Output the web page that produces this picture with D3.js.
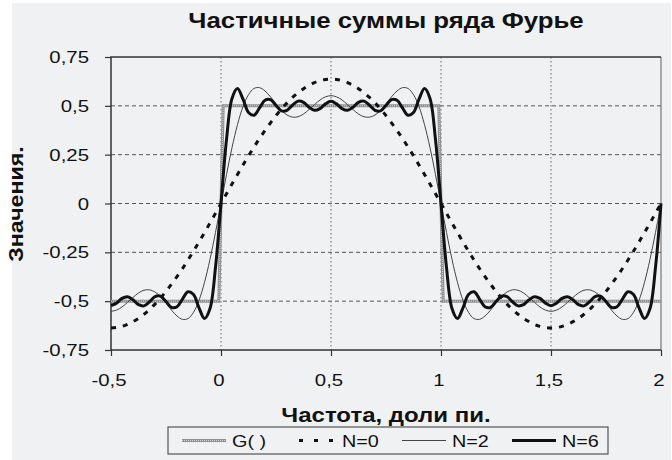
<!DOCTYPE html>
<html>
<head>
<meta charset="utf-8">
<script src="https://cdn.jsdelivr.net/npm/d3@7"></script>
<style>
  body { margin: 0; background: #fff; }
  text { font-family: "Liberation Sans", Arial, sans-serif; fill: #111; }
</style>
</head>
<body>
<script>
// sample positions, fractions of pi
const xs = [-0.5, -0.475, -0.45, -0.425, -0.4, -0.375, -0.35, -0.325, -0.3, -0.275,
  -0.25, -0.225, -0.2, -0.175, -0.15, -0.125, -0.1, -0.075, -0.05, -0.025,
  0, 0.025, 0.05, 0.075, 0.1, 0.125, 0.15, 0.175, 0.2, 0.225,
  0.25, 0.275, 0.3, 0.325, 0.35, 0.375, 0.4, 0.425, 0.45, 0.475,
  0.5, 0.525, 0.55, 0.575, 0.6, 0.625, 0.65, 0.675, 0.7, 0.725,
  0.75, 0.775, 0.8, 0.825, 0.85, 0.875, 0.9, 0.925, 0.95, 0.975,
  1, 1.025, 1.05, 1.075, 1.1, 1.125, 1.15, 1.175, 1.2, 1.225,
  1.25, 1.275, 1.3, 1.325, 1.35, 1.375, 1.4, 1.425, 1.45, 1.475,
  1.5, 1.525, 1.55, 1.575, 1.6, 1.625, 1.65, 1.675, 1.7, 1.725,
  1.75, 1.775, 1.8, 1.825, 1.85, 1.875, 1.9, 1.925, 1.95, 1.975, 2];

const n0 = [-0.637, -0.635, -0.629, -0.619, -0.605, -0.588, -0.567, -0.543, -0.515, -0.484,
  -0.450, -0.413, -0.374, -0.333, -0.289, -0.244, -0.197, -0.149, -0.100, -0.050,
  0, 0.050, 0.100, 0.149, 0.197, 0.244, 0.289, 0.333, 0.374, 0.413,
  0.450, 0.484, 0.515, 0.543, 0.567, 0.588, 0.605, 0.619, 0.629, 0.635,
  0.637, 0.635, 0.629, 0.619, 0.605, 0.588, 0.567, 0.543, 0.515, 0.484,
  0.450, 0.413, 0.374, 0.333, 0.289, 0.244, 0.197, 0.149, 0.100, 0.050,
  0, -0.050, -0.100, -0.149, -0.197, -0.244, -0.289, -0.333, -0.374, -0.413,
  -0.450, -0.484, -0.515, -0.543, -0.567, -0.588, -0.605, -0.619, -0.629, -0.635,
  -0.637, -0.635, -0.629, -0.619, -0.605, -0.588, -0.567, -0.543, -0.515, -0.484,
  -0.450, -0.413, -0.374, -0.333, -0.289, -0.244, -0.197, -0.149, -0.100, -0.050, 0];

const n2 = [-0.552, -0.546, -0.530, -0.506, -0.481, -0.458, -0.444, -0.442, -0.453, -0.477,
  -0.510, -0.546, -0.576, -0.593, -0.589, -0.557, -0.496, -0.404, -0.286, -0.148,
  0, 0.148, 0.286, 0.404, 0.496, 0.557, 0.589, 0.593, 0.576, 0.546,
  0.510, 0.477, 0.453, 0.442, 0.444, 0.458, 0.481, 0.506, 0.530, 0.546,
  0.552, 0.546, 0.530, 0.506, 0.481, 0.458, 0.444, 0.442, 0.453, 0.477,
  0.510, 0.546, 0.576, 0.593, 0.589, 0.557, 0.496, 0.404, 0.286, 0.148,
  0, -0.148, -0.286, -0.404, -0.496, -0.557, -0.589, -0.593, -0.576, -0.546,
  -0.510, -0.477, -0.453, -0.442, -0.444, -0.458, -0.481, -0.506, -0.530, -0.546,
  -0.552, -0.546, -0.530, -0.506, -0.481, -0.458, -0.444, -0.442, -0.453, -0.477,
  -0.510, -0.546, -0.576, -0.593, -0.589, -0.557, -0.496, -0.404, -0.286, -0.148, 0];

const n6 = [-0.523, -0.510, -0.486, -0.477, -0.493, -0.518, -0.524, -0.503, -0.477, -0.474,
  -0.502, -0.532, -0.529, -0.489, -0.452, -0.466, -0.534, -0.589, -0.538, -0.327,
  0, 0.327, 0.538, 0.589, 0.534, 0.466, 0.452, 0.489, 0.529, 0.532,
  0.502, 0.474, 0.477, 0.503, 0.524, 0.518, 0.493, 0.477, 0.486, 0.510,
  0.523, 0.510, 0.486, 0.477, 0.493, 0.518, 0.524, 0.503, 0.477, 0.474,
  0.502, 0.532, 0.529, 0.489, 0.452, 0.466, 0.534, 0.589, 0.538, 0.327,
  0, -0.327, -0.538, -0.589, -0.534, -0.466, -0.452, -0.489, -0.529, -0.532,
  -0.502, -0.474, -0.477, -0.503, -0.524, -0.518, -0.493, -0.477, -0.486, -0.510,
  -0.523, -0.510, -0.486, -0.477, -0.493, -0.518, -0.524, -0.503, -0.477, -0.474,
  -0.502, -0.532, -0.529, -0.489, -0.452, -0.466, -0.534, -0.589, -0.538, -0.327, 0];

// the square wave G
const gX = [-0.5, -0.01, 0.01, 0.99, 1.01, 2];
const gY = [-0.5, -0.5, 0.5, 0.5, -0.5, -0.5];

const xTicks = [-0.5, 0, 0.5, 1, 1.5, 2];
const yTicks = [-0.75, -0.5, -0.25, 0, 0.25, 0.5, 0.75];
const legendLabels = ["G( )", "N=0", "N=2", "N=6"];

const W = 672, H = 460;
const plot = { left: 111, right: 661, top: 57, bottom: 350 };
const SX = 1.2; // text in the picture is drawn wide

const svg = d3.select("body").append("svg")
    .attr("width", W)
    .attr("height", H);

svg.append("rect")
    .attr("x", 12).attr("y", 3)
    .attr("width", W - 13).attr("height", H - 3)
    .attr("fill", "#f0f1f3");

const x = d3.scaleLinear().domain([-0.5, 2]).range([plot.left, plot.right]);
const y = d3.scaleLinear().domain([-0.75, 0.75]).range([plot.bottom, plot.top]);

const fmt = v => String(v).replace(".", ",");

function label(str, px, py, size, opts) {
    opts = opts || {};
    const t = svg.append("text")
        .attr("transform", `translate(${px},${py})` + (opts.rotate ? " rotate(-90)" : "") + ` scale(${opts.sx || SX},1)`)
        .attr("text-anchor", opts.anchor || "middle")
        .style("font-size", size + "px")
        .text(str);
    if (opts.bold) t.style("font-weight", "bold");
    return t;
}

// grid
svg.append("g").selectAll("line")
    .data(yTicks.filter(v => v > -0.75 && v < 0.75))
    .enter().append("line")
    .attr("x1", plot.left).attr("x2", plot.right)
    .attr("y1", d => y(d)).attr("y2", d => y(d))
    .attr("stroke", "#555")
    .attr("stroke-width", 1)
    .attr("stroke-dasharray", "4,3");

svg.append("g").selectAll("line")
    .data(xTicks.filter(v => v > -0.5 && v < 2))
    .enter().append("line")
    .attr("x1", d => x(d)).attr("x2", d => x(d))
    .attr("y1", plot.top).attr("y2", plot.bottom)
    .attr("stroke", "#666")
    .attr("stroke-width", 1)
    .attr("stroke-dasharray", "1.5,2.5");

// frame
svg.append("line")
    .attr("x1", plot.right).attr("x2", plot.right)
    .attr("y1", plot.top).attr("y2", plot.bottom)
    .attr("stroke", "#777").attr("stroke-width", 1.2);
svg.append("path")
    .attr("d", `M${plot.right},${plot.top}H${plot.left}V${plot.bottom}H${plot.right}`)
    .attr("fill", "none")
    .attr("stroke", "#333")
    .attr("stroke-width", 1.5);

// axes ticks
const yAxis = svg.append("g")
    .attr("transform", `translate(${plot.left},0)`)
    .call(d3.axisLeft(y).tickValues(yTicks).tickSize(6).tickFormat(""));
const xAxis = svg.append("g")
    .attr("transform", `translate(0,${plot.bottom})`)
    .call(d3.axisBottom(x).tickValues(xTicks).tickSize(6).tickFormat(""));
[yAxis, xAxis].forEach(a => {
    a.select(".domain").remove();
    a.selectAll(".tick line").attr("stroke", "#333").attr("stroke-width", 1.2);
});

yTicks.forEach(v => label(fmt(v), 89, y(v) + 6, 17, { anchor: "end" }));
xTicks.forEach(v => label(fmt(v), x(v) - 2, 386, 17));

// series
const smooth = d3.line()
    .x(d => x(d[0]))
    .y(d => y(d[1]))
    .curve(d3.curveCatmullRom.alpha(0.5));
const straight = d3.line()
    .x(d => x(d[0]))
    .y(d => y(d[1]));

const gPts = gX.map((v, i) => [v, gY[i]]);
svg.append("path").attr("d", straight(gPts))
    .attr("fill", "none").attr("stroke", "#8e8e8e").attr("stroke-width", 3);
svg.append("path").attr("d", straight(gPts))
    .attr("fill", "none").attr("stroke", "#d8d8d8").attr("stroke-width", 1)
    .attr("stroke-dasharray", "1,1");

const series = [
    { values: n0, color: "#111", width: 3, dash: "5,7" },
    { values: n2, color: "#444", width: 1, dash: null },
    { values: n6, color: "#111", width: 3, dash: null }
];

series.forEach(s => {
    svg.append("path")
        .attr("d", smooth(xs.map((v, i) => [v, s.values[i]])))
        .attr("fill", "none")
        .attr("stroke", s.color)
        .attr("stroke-width", s.width)
        .attr("stroke-dasharray", s.dash);
});

// titles
label("Частичные суммы ряда Фурье", 386, 28, 21.5, { bold: true });
label("Частота, доли пи.", 386, 422, 20, { bold: true });
label("Значения.", 23, 204, 20, { bold: true, rotate: true, sx: 1.16 });

// legend
const legend = svg.append("g");
legend.append("rect")
    .attr("x", 168).attr("y", 427)
    .attr("width", 440).attr("height", 27)
    .attr("fill", "none")
    .attr("stroke", "#555")
    .attr("stroke-width", 1.2);

const legendStyles = [
    { color: "#8e8e8e", width: 3, dash: null },
    { color: "#111", width: 3, dash: "4,11", offset: -7 },
    { color: "#444", width: 1, dash: null },
    { color: "#111", width: 3, dash: null }
];

legendLabels.forEach((name, i) => {
    const x0 = 182 + i * 110;
    const st = legendStyles[i];
    legend.append("line")
        .attr("x1", x0).attr("x2", x0 + 44)
        .attr("y1", 440.5).attr("y2", 440.5)
        .attr("stroke", st.color)
        .attr("stroke-width", st.width)
        .attr("stroke-dasharray", st.dash)
        .attr("stroke-dashoffset", st.offset || 0);
    if (i === 0) {
        legend.append("line")
            .attr("x1", x0).attr("x2", x0 + 44)
            .attr("y1", 440.5).attr("y2", 440.5)
            .attr("stroke", "#d8d8d8").attr("stroke-width", 1)
            .attr("stroke-dasharray", "1,1");
    }
    label(name, x0 + 50, 447, 16.5, { anchor: "start" });
});
</script>
</body>
</html>
